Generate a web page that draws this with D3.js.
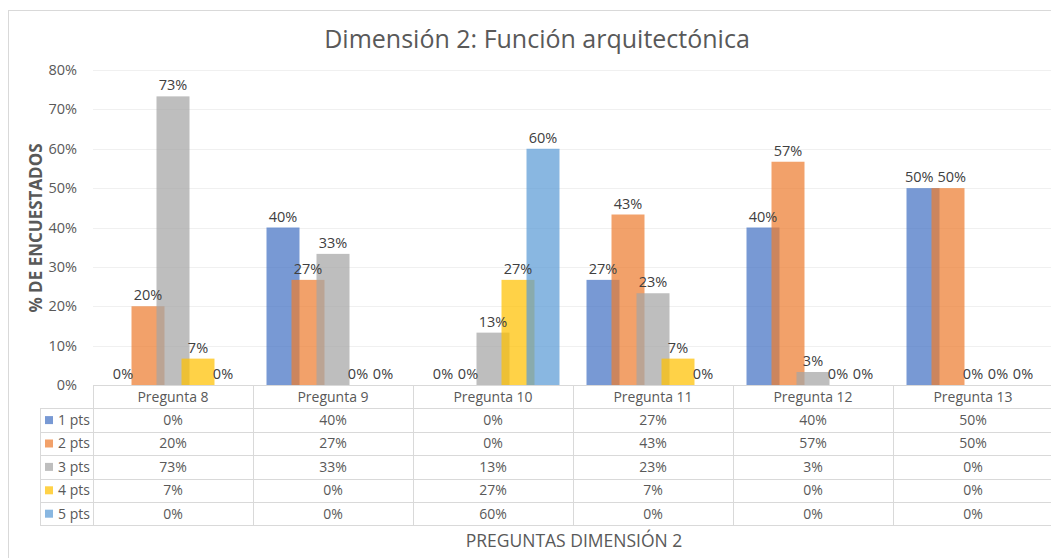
<!DOCTYPE html>
<html>
<head>
    <meta charset="utf-8">
    <script src="https://d3js.org/d3.v7.min.js"></script>
    <style>
        body { margin: 0; background: #fff; }
        text { font-family: "Open Sans", Lato, sans-serif; fill: #595959; }
        .lbl { fill: #404040; font-size: 14.5px; }
        .grid line { stroke: #F0F0F0; stroke-width: 1px; }
        .tbl line { stroke: #D9D9D9; stroke-width: 1px; }
    </style>
</head>
<body>
    <div id="chart"></div>

    <script>
        // Data
        const categories = ["Pregunta 8", "Pregunta 9", "Pregunta 10", "Pregunta 11", "Pregunta 12", "Pregunta 13"];
        const seriesNames = ["1 pts", "2 pts", "3 pts", "4 pts", "5 pts"];
        const pts1 = [0, 40, 0, 26.7, 40, 50];
        const pts2 = [20, 26.7, 0, 43.3, 56.7, 50];
        const pts3 = [73.3, 33.3, 13.3, 23.3, 3.3, 0];
        const pts4 = [6.7, 0, 26.7, 6.7, 0, 0];
        const pts5 = [0, 0, 60, 0, 0, 0];
        const yTicks = [0, 10, 20, 30, 40, 50, 60, 70, 80];
        const colors = ["#4472C4", "#ED7D31", "#A5A5A5", "#FFC000", "#5B9BD5"];

        const series = [pts1, pts2, pts3, pts4, pts5];

        // Layout
        const width = 1051, height = 558;
        const plot = { left: 93, right: 1053, top: 70, bottom: 385 };
        const rowH = 23.4;
        const barW = 33, barStep = 25;

        const svg = d3.select("#chart")
            .append("svg")
            .attr("width", width)
            .attr("height", height);

        // chart border
        svg.append("rect")
            .attr("x", 8.5).attr("y", 10.5)
            .attr("width", 1060).attr("height", 570)
            .attr("fill", "none")
            .attr("stroke", "#D9D9D9");

        const x = d3.scaleBand()
            .domain(categories)
            .range([plot.left, plot.right]);

        const y = d3.scaleLinear()
            .domain([0, 80])
            .range([plot.bottom, plot.top]);

        // offset of each series inside a category (bars overlap)
        const groupW = barStep * (seriesNames.length - 1) + barW;
        const xs = d3.scaleLinear()
            .domain([0, seriesNames.length - 1])
            .range([(x.bandwidth() - groupW) / 2, (x.bandwidth() - groupW) / 2 + barStep * (seriesNames.length - 1)]);

        // gridlines
        svg.append("g").attr("class", "grid")
            .selectAll("line")
            .data(yTicks.filter(d => d > 0))
            .join("line")
            .attr("x1", plot.left).attr("x2", width)
            .attr("y1", d => Math.round(y(d)) + 0.5)
            .attr("y2", d => Math.round(y(d)) + 0.5);

        // y axis labels
        svg.append("g")
            .selectAll("text")
            .data(yTicks)
            .join("text")
            .attr("x", 77)
            .attr("y", d => y(d))
            .attr("dy", "0.35em")
            .attr("text-anchor", "end")
            .style("font-size", "14.5px")
            .text(d => d + "%");

        // bars
        series.forEach((vals, si) => {
            const g = svg.append("g");
            g.selectAll("rect")
                .data(vals)
                .join("rect")
                .attr("x", (d, i) => x(categories[i]) + xs(si))
                .attr("y", d => y(d))
                .attr("width", barW)
                .attr("height", d => y(0) - y(d))
                .attr("fill", colors[si])
                .attr("fill-opacity", 0.72);
        });

        // data labels
        const labels = [];
        series.forEach((vals, si) => {
            svg.append("g")
                .selectAll("text")
                .data(vals)
                .join("text")
                .attr("class", "lbl")
                .attr("x", (d, i) => x(categories[i]) + xs(si) + barW / 2)
                .attr("y", d => y(d) - 6)
                .attr("text-anchor", "middle")
                .text(d => Math.round(d) + "%")
                .each(function (d, i) { labels.push({ el: this, cat: i, si: si }); });
        });

        // push apart labels that sit on the same line and collide
        categories.forEach((c, ci) => {
            const row = labels.filter(l => l.cat === ci).sort((a, b) => a.si - b.si);
            for (let k = 1; k < row.length; k++) {
                const a = row[k - 1].el, b = row[k].el;
                const ya = +a.getAttribute("y"), yb = +b.getAttribute("y");
                if (Math.abs(ya - yb) > 10) continue;
                const xa = +a.getAttribute("x"), xb = +b.getAttribute("x");
                const need = (a.getComputedTextLength() + b.getComputedTextLength()) / 2 + 4;
                const gap = xb - xa;
                if (gap < need) {
                    const s = (need - gap) / 2;
                    a.setAttribute("x", xa - s);
                    b.setAttribute("x", xb + s);
                }
            }
        });

        // data table
        const tbl = svg.append("g").attr("class", "tbl");
        const tTop = plot.bottom;
        const nRows = seriesNames.length;
        const tBottom = tTop + rowH * (nRows + 1);

        // horizontal lines
        tbl.append("line")
            .attr("x1", plot.left).attr("x2", width)
            .attr("y1", tTop + 0.5).attr("y2", tTop + 0.5);
        d3.range(1, nRows + 2).forEach(r => {
            const yy = Math.round(tTop + r * rowH) + 0.5;
            tbl.append("line")
                .attr("x1", 40).attr("x2", width)
                .attr("y1", yy).attr("y2", yy);
        });

        // vertical lines
        categories.forEach(c => {
            tbl.append("line")
                .attr("x1", Math.round(x(c)) + 0.5).attr("x2", Math.round(x(c)) + 0.5)
                .attr("y1", tTop).attr("y2", Math.round(tBottom));
        });
        tbl.append("line")
            .attr("x1", 40.5).attr("x2", 40.5)
            .attr("y1", Math.round(tTop + rowH)).attr("y2", Math.round(tBottom));

        // header
        tbl.selectAll(".hdr")
            .data(categories)
            .join("text")
            .attr("class", "hdr")
            .attr("x", d => x(d) + x.bandwidth() / 2)
            .attr("y", tTop + rowH / 2)
            .attr("dy", "0.35em")
            .attr("text-anchor", "middle")
            .style("font-size", "14px")
            .text(d => d);

        // rows
        series.forEach((vals, si) => {
            const ry = tTop + rowH * (si + 1) + rowH / 2;
            tbl.append("rect")
                .attr("x", 45).attr("y", ry - 4)
                .attr("width", 8).attr("height", 8)
                .attr("fill", colors[si])
                .attr("fill-opacity", 0.72);
            tbl.append("text")
                .attr("x", 58).attr("y", ry)
                .attr("dy", "0.35em")
                .style("font-size", "14px")
                .text(seriesNames[si]);
            tbl.selectAll(".v" + si)
                .data(vals)
                .join("text")
                .attr("class", "v" + si)
                .attr("x", (d, i) => x(categories[i]) + x.bandwidth() / 2)
                .attr("y", ry)
                .attr("dy", "0.35em")
                .attr("text-anchor", "middle")
                .style("font-size", "14px")
                .text(d => Math.round(d) + "%");
        });

        // titles
        svg.append("text")
            .attr("x", 537).attr("y", 48)
            .attr("text-anchor", "middle")
            .style("font-size", "25px")
            .text("Dimensión 2: Función arquitectónica");

        svg.append("text")
            .attr("transform", "translate(42,228) rotate(-90)")
            .attr("text-anchor", "middle")
            .style("font-size", "17px")
            .style("font-weight", "bold")
            .text("% DE ENCUESTADOS");

        svg.append("text")
            .attr("x", 574).attr("y", 547)
            .attr("text-anchor", "middle")
            .style("font-size", "17.5px")
            .text("PREGUNTAS DIMENSIÓN 2");
    </script>
</body>
</html>
